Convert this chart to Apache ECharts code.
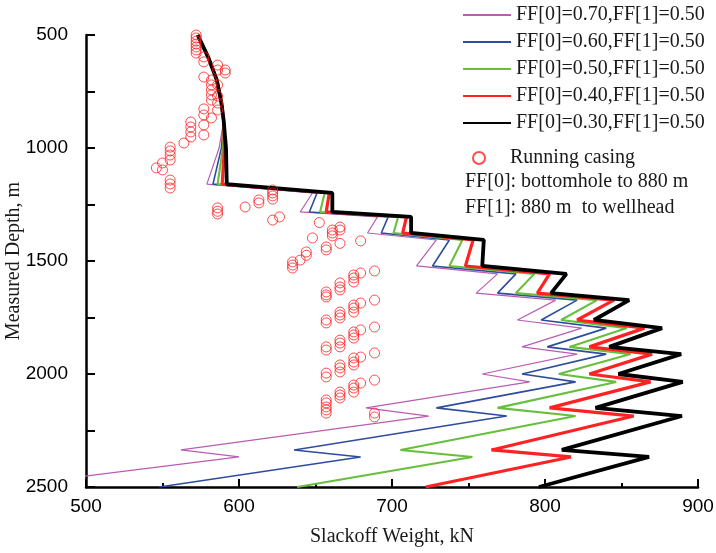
<!DOCTYPE html>
<html>
<head>
<meta charset="utf-8">
<script src="https://cdn.jsdelivr.net/npm/echarts@6/dist/echarts.min.js"></script>
<style>
html, body { margin: 0; padding: 0; background: #fff; }
#chart { width: 716px; height: 553px; }
</style>
</head>
<body>
<div id="chart"></div>
<script>
// depth nodes (m) shared by all slackoff curves
var depthNodes = [500, 600, 700, 800, 880, 1000, 1160, 1199, 1283, 1305, 1376, 1407, 1522,
  1557, 1642, 1673, 1761, 1797, 1880, 1912, 2000, 2035, 2150, 2186, 2336, 2367, 2500];

// slackoff weight (kN) at each depth node
var ff070 = [573, 580, 585.5, 588.5, 590, 587, 579, 648, 640, 690.5, 684, 729, 716,
  769, 755, 807, 782, 824, 785, 821, 759, 790, 683, 724, 562, 600, 442];
var ff060 = [573, 580, 585.5, 588.5, 590, 588.5, 583, 651, 646, 697.5, 693, 737.5, 726.5,
  781, 769, 821, 797.5, 840, 801.5, 840, 785, 820, 729, 775, 636, 679.5, 548];
var ff050 = [573, 580, 585.5, 588.5, 590, 589.5, 586, 656, 653, 704, 701, 746, 737.5,
  793, 781, 834, 810.5, 853.5, 816, 856, 809, 846.5, 769, 820, 705.5, 752.5, 638];
var ff040 = [573, 580, 585.5, 588.5, 590, 590.5, 589, 659, 657, 709.5, 707, 753, 748,
  803, 795, 845, 821, 865, 829, 870, 829, 869, 803, 858, 765, 817, 722];
var ff030 = [573, 580, 585.5, 588.5, 590, 591.5, 592, 661, 661, 712.5, 712.5, 760, 759,
  814, 804, 855, 832, 876.5, 842, 889, 848, 890, 833, 889.5, 811, 868, 796];

// running casing measurements
var casingWeight = [572, 572, 572, 572, 572, 572, 572,
  577, 577, 586, 586, 591, 591, 577,
  582, 582, 582, 582, 582, 586, 586, 586, 586, 577, 577, 582,
  568.5, 568.5, 568.5, 568.5, 577, 577, 564,
  555, 555, 555, 555, 550, 550, 546, 555, 555, 555,
  586, 586, 586, 604, 613, 613, 622, 622, 622, 622, 622, 626.5, 652.5,
  661, 661, 661, 666, 666, 648, 657, 657, 666, 679.5, 644, 644, 640, 635, 635, 635,
  657, 657, 657, 657, 657, 657, 657, 657, 657, 657, 657, 657, 657, 657,
  666, 666, 666, 666, 666, 666, 666, 666, 666, 666, 666, 666, 666, 666, 666,
  675, 675, 675, 675, 675, 675, 675, 675, 675, 675, 675, 675, 675, 675, 675,
  679.5, 679.5, 679.5, 679.5, 679.5,
  688.6, 688.6, 688.6, 688.6, 688.6, 688.6, 688.6];
var casingDepth = [500, 513, 527, 540, 553, 566, 580,
  597, 619, 633, 655, 655, 668, 686,
  699, 721, 743, 765, 788, 721, 770, 801, 832, 827, 854, 867,
  885, 907, 929, 951, 898, 942, 978,
  996, 1013, 1031, 1053, 1066, 1097, 1088, 1142, 1159, 1177,
  1265, 1280, 1292, 1261, 1230, 1243, 1186, 1199, 1212, 1226, 1319, 1305, 1330,
  1363, 1376, 1389, 1350, 1363, 1398, 1438, 1451, 1422, 1411, 1460, 1475, 1496, 1504, 1518, 1531,
  1637, 1650, 1659, 1761, 1774, 1880, 1894, 1996, 2013, 2115, 2128, 2146, 2159, 2173,
  1597, 1615, 1628, 1726, 1739, 1752, 1850, 1863, 1880, 1960, 1973, 1991, 2080, 2093, 2106,
  1562, 1575, 1593, 1695, 1708, 1726, 1814, 1827, 1841, 1929, 1947, 1960, 2049, 2062, 2080,
  1553, 1686, 1805, 1925, 2040,
  1544, 1673, 1792, 1907, 2027, 2173, 2190];

var curveNames = ['FF[0]=0.70,FF[1]=0.50', 'FF[0]=0.60,FF[1]=0.50', 'FF[0]=0.50,FF[1]=0.50',
  'FF[0]=0.40,FF[1]=0.50', 'FF[0]=0.30,FF[1]=0.50'];
var curveWeights = [ff070, ff060, ff050, ff040, ff030];
var curveColors = ['#bb5cb3', '#2e4d9e', '#68bf3e', '#ff2222', '#000000'];
var curveWidths = [1.2, 1.6, 2.1, 3.2, 3.8];

var serif = "'Liberation Serif', 'Times New Roman', serif";
var sans = "'Liberation Sans Narrow', 'Liberation Sans', Arial, sans-serif";

function pairs(xs, ys) {
  return xs.map(function (x, i) { return [x, ys[i]]; });
}

var series = curveNames.map(function (name, i) {
  return {
    name: name,
    type: 'line',
    data: pairs(curveWeights[i], depthNodes),
    symbol: 'none',
    showSymbol: false,
    lineStyle: { color: curveColors[i], width: curveWidths[i] },
    itemStyle: { color: curveColors[i] }
  };
});
series.push({
  name: 'Running casing',
  type: 'scatter',
  data: pairs(casingWeight, casingDepth),
  symbol: 'circle',
  symbolSize: 10,
  itemStyle: { color: 'rgba(255,255,255,0)', borderColor: '#ff2020', borderWidth: 1 },
  z: 5
});

var chart = echarts.init(document.getElementById('chart'));
chart.setOption({
  animation: false,
  backgroundColor: '#fff',
  grid: { left: 86, right: 18, top: 35, bottom: 66, outerBoundsMode: 'none', containLabel: false },
  title: {
    text: 'FF[0]: bottomhole to 880 m\nFF[1]: 880 m  to wellhead',
    left: 465,
    top: 169,
    padding: 0,
    textStyle: { fontFamily: serif, fontSize: 20, fontWeight: 'normal', color: '#1a1a1a', lineHeight: 26 }
  },
  legend: [{
    data: curveNames,
    orient: 'vertical',
    left: 462,
    top: 5,
    padding: 0,
    itemWidth: 48,
    itemHeight: 20,
    itemGap: 7,
    itemStyle: { opacity: 0 },
    textStyle: { fontFamily: serif, fontSize: 20, color: '#1a1a1a', lineHeight: 20 }
  }, {
    data: ['Running casing'],
    orient: 'vertical',
    left: 467,
    top: 143,
    itemWidth: 52,
    itemHeight: 12,
    textStyle: { fontFamily: serif, fontSize: 20, color: '#1a1a1a', lineHeight: 20 }
  }],
  xAxis: {
    type: 'value',
    min: 500,
    max: 900,
    interval: 100,
    name: 'Slackoff Weight, kN',
    nameLocation: 'middle',
    nameGap: 40,
    nameMoveOverlap: false,
    nameTextStyle: { fontFamily: serif, fontSize: 20, color: '#1a1a1a' },
    axisLine: { show: true, lineStyle: { color: '#000', width: 2.5 } },
    axisTick: { show: true, inside: true, length: 8, lineStyle: { color: '#000', width: 2 } },
    minorTick: { show: true, splitNumber: 2, length: 4, lineStyle: { color: '#000', width: 2 } },
    axisLabel: { margin: 10, fontFamily: sans, fontSize: 19, color: '#000' },
    splitLine: { show: false }
  },
  yAxis: {
    type: 'value',
    inverse: true,
    min: 500,
    max: 2500,
    interval: 250,
    name: 'Measured Depth, m',
    nameLocation: 'middle',
    nameGap: 62,
    nameMoveOverlap: false,
    nameTextStyle: { fontFamily: serif, fontSize: 20, color: '#1a1a1a' },
    axisLine: { show: true, lineStyle: { color: '#000', width: 2.5 } },
    axisTick: { show: true, inside: true, length: 9, lineStyle: { color: '#000', width: 2 } },
    axisLabel: {
      margin: 18,
      fontFamily: sans,
      fontSize: 19,
      color: '#000',
      padding: [0, 0, 8, 0],
      formatter: function (v) { return v % 500 === 0 ? String(v) : ''; }
    },
    splitLine: { show: false }
  },
  series: series
});
</script>
</body>
</html>
